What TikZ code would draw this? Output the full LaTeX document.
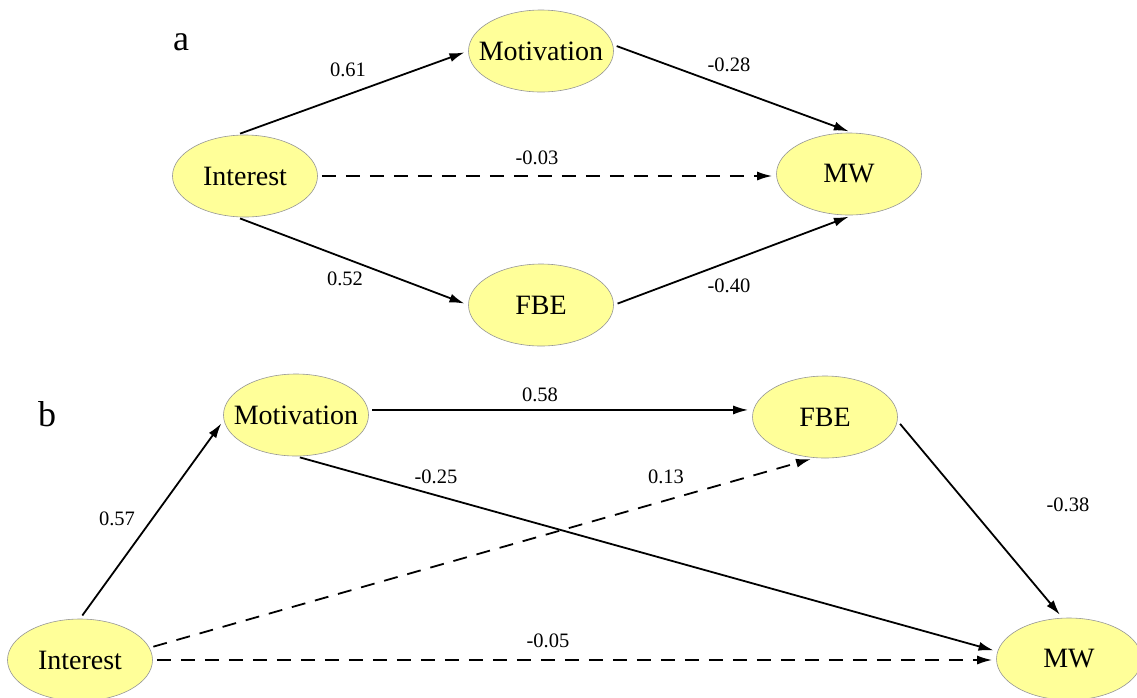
\documentclass[tikz,border=0pt]{standalone}
\usepackage{fontspec}
\setmainfont{Liberation Serif}
\usetikzlibrary{shapes.geometric,arrows.meta}
\definecolor{nodefill}{RGB}{255,255,153}
\definecolor{nodeline}{RGB}{150,150,150}
\newcommand{\vtxt}[1]{\makebox[0pt]{#1}}
\tikzset{
  var/.style={ellipse, draw=nodeline, line width=0.6pt, fill=nodefill, minimum width=145pt, minimum height=82pt, inner sep=0pt, font=\fontsize{28}{30}\selectfont},
  path/.style={line width=1.8pt, -{Latex[length=15pt,width=9pt]}, shorten >=4pt, shorten <=4pt},
  dpath/.style={path, dash pattern=on 14pt off 10pt},
  coef/.style={font=\fontsize{20.5}{22}\selectfont, inner sep=0pt},
  panel/.style={font=\fontsize{36}{38}\selectfont, inner sep=0pt}
}
\begin{document}
\begin{tikzpicture}[x=1pt,y=-1pt]
\useasboundingbox (0,0) rectangle (1137,697);
% panel a
\node[panel] (pa) at (181,42) {a};
\node[var] (intA) at (245,176) {\vtxt{Interest}};
\node[var] (motA) at (541,51) {\vtxt{Motivation}};
\node[var] (fbeA) at (541,305) {\vtxt{FBE}};
\node[var] (mwA) at (849,174) {\vtxt{MW}};
\draw[path] (intA.102) -- (motA.west);
\draw[path] (motA.5) -- (mwA.85);
\draw[dpath] (intA.east) -- (intA.east -| mwA.west);
\draw[path] (intA.258) -- (fbeA.west);
\draw[path] (fbeA.east) -- (mwA.275);
\node[coef] (c1) at (348,70) {0.61};
\node[coef] (c2) at (729,65) {-0.28};
\node[coef] (c3) at (537,158) {-0.03};
\node[coef] (c4) at (345,279) {0.52};
\node[coef] (c5) at (729,286) {-0.40};
% panel b
\node[panel] (pb) at (47,414) {b};
\node[var] (intB) at (80,660) {\vtxt{Interest}};
\node[var] (motB) at (296,415) {\vtxt{Motivation}};
\node[var] (fbeB) at (825,417) {\vtxt{FBE}};
\node[var] (mwB) at (1069,659) {\vtxt{MW}};
\draw[path] (intB.north) -- (motB.184);
\draw[path] (motB.4) -- (motB.4 -| fbeB.west);
\draw[path] (motB.south) -- (mwB.174);
\draw[dpath] (intB.10) -- (fbeB.256);
\draw[path] (fbeB.357) -- (mwB.99);
\draw[dpath] (intB.east) -- (intB.east -| mwB.west);
\node[coef] (d1) at (117,519) {0.57};
\node[coef] (d2) at (540,395) {0.58};
\node[coef] (d3) at (436,477) {-0.25};
\node[coef] (d4) at (666,477) {0.13};
\node[coef] (d5) at (1068,505) {-0.38};
\node[coef] (d6) at (548,641) {-0.05};
\end{tikzpicture}
\end{document}
